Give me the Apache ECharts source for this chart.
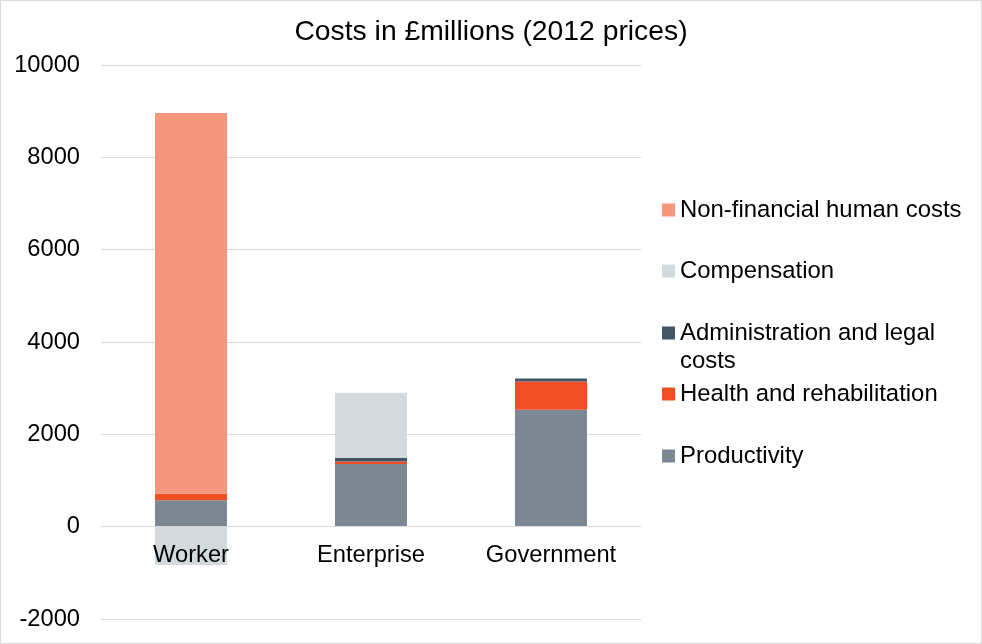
<!DOCTYPE html>
<html>
<head>
<meta charset="utf-8">
<script src="https://cdn.jsdelivr.net/npm/echarts@6/dist/echarts.min.js"></script>
<style>
html,body{margin:0;padding:0;background:#fff;}
#chart{width:982px;height:644px;}
</style>
</head>
<body>
<div id="chart"></div>
<script>
var categories = ['Worker', 'Enterprise', 'Government'];
var productivity = [574, 1360, 2530];
var health = [140, 50, 615];
var admin = [0, 80, 65];
var compensation = [-830, 1410, 0];
var nonFinancial = [8246, 0, 0];
var yTicks = { min: -2000, max: 10000, interval: 2000 };

var FONT = '"Liberation Sans", Arial, sans-serif';
var colors = {
  'Productivity': '#7E8895',
  'Health and rehabilitation': '#F04F23',
  'Administration and legal costs': '#435665',
  'Compensation': '#D2DADD',
  'Non-financial human costs': '#F8967B'
};

function legendFor(name, top, label) {
  return {
    data: [name], orient: 'vertical', left: 662, top: top, padding: 0,
    itemWidth: 13, itemHeight: 13, icon: 'rect',
    textStyle: { fontFamily: FONT, fontSize: 23.9, color: '#000', lineHeight: 28 },
    formatter: function () { return label; }
  };
}

var chart = echarts.init(document.getElementById('chart'));
function bar(name, data) {
  return {
    name: name, type: 'bar', stack: 'total', data: data,
    barWidth: 72, itemStyle: { color: colors[name] },
    emphasis: { disabled: true }
  };
}
chart.setOption({
  animation: false,
  title: {
    text: 'Costs in £millions (2012 prices)', left: 'center', top: 15, padding: 0,
    textStyle: { fontFamily: FONT, fontSize: 28.3, fontWeight: 'normal', color: '#000', lineHeight: 34 }
  },
  graphic: [{
    type: 'rect', silent: true, z: 100,
    shape: { x: 0.5, y: 0.5, width: 981, height: 643 },
    style: { fill: 'none', stroke: '#d9d9d9', lineWidth: 1 }
  }],
  legend: [
    legendFor('Non-financial human costs', 196, 'Non-financial human costs'),
    legendFor('Compensation', 257, 'Compensation'),
    legendFor('Administration and legal costs', 291, ' \nAdministration and legal\ncosts'),
    legendFor('Health and rehabilitation', 380, 'Health and rehabilitation'),
    legendFor('Productivity', 442, 'Productivity')
  ],
  grid: { left: 101, right: 341, top: 65, bottom: 25, outerBoundsMode: 'none' },
  xAxis: {
    type: 'category', data: categories, z: 10, position: 'bottom', offset: -92.5,
    axisLine: { onZero: false, lineStyle: { color: '#d9d9d9', width: 1 } },
    axisTick: { show: false },
    axisLabel: { fontFamily: FONT, fontSize: 23.7, color: '#000', margin: 17 },
    splitLine: { show: false }
  },
  yAxis: {
    type: 'value', min: yTicks.min, max: yTicks.max, interval: yTicks.interval,
    axisLine: { show: false }, axisTick: { show: false },
    axisLabel: { fontFamily: FONT, fontSize: 23.7, color: '#000', margin: 21,
      formatter: function (v) { return String(v); } },
    splitLine: { lineStyle: { color: '#d9d9d9', width: 1 } }
  },
  series: [
    bar('Productivity', productivity),
    bar('Health and rehabilitation', health),
    bar('Administration and legal costs', admin),
    bar('Compensation', compensation),
    bar('Non-financial human costs', nonFinancial)
  ]
});
</script>
</body>
</html>
